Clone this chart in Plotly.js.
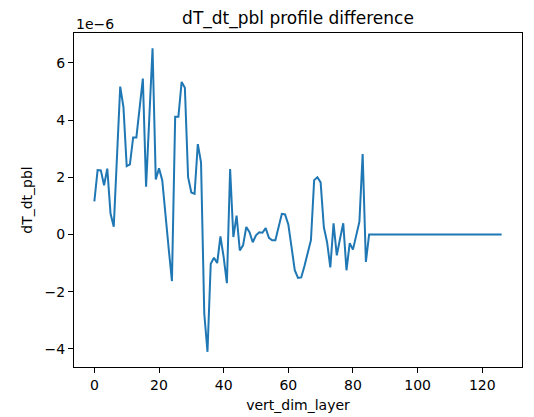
<!DOCTYPE html>
<html>
<head>
<meta charset="utf-8">
<script src="https://cdn.plot.ly/plotly-3.0.1.min.js"></script>
<style>
html,body{margin:0;padding:0;background:#fff;}
#chart{width:534px;height:417px;}
</style>
</head>
<body>
<div id="chart"></div>
<script>
// vertical layer index
var layers = [];
for (var k = 0; k <= 126; k++) layers.push(k);

// dT_dt_pbl difference, in units of 1e-6
var dTdtPbl = [
  1.16, 2.25, 2.24, 1.72, 2.30, 0.73, 0.27, 2.70, 5.17, 4.45,
  2.39, 2.45, 3.39, 3.39, 4.40, 5.45, 1.67, 4.10, 6.51, 1.92,
  2.31, 1.90, 0.60, -0.50, -1.63, 4.11, 4.11, 5.33, 5.13, 2.00,
  1.47, 1.42, 3.16, 2.52, -2.76, -4.10, -1.02, -0.81, -1.00, -0.07,
  -0.79, -1.70, 2.29, -0.09, 0.66, -0.56, -0.38, 0.26, 0.08, -0.27,
  -0.03, 0.08, 0.06, 0.22, -0.12, -0.20, -0.20, 0.26, 0.72, 0.70,
  0.35, -0.44, -1.25, -1.52, -1.50, -1.10, -0.60, -0.20, 1.90, 2.00,
  1.82, 0.25, -0.27, -1.15, 0.39, -0.73, -0.15, 0.39, -1.25, -0.30,
  -0.53, 0.00, 0.45, 2.81, -0.96, 0, 0, 0, 0, 0,
  0, 0, 0, 0, 0, 0, 0, 0, 0, 0,
  0, 0, 0, 0, 0, 0, 0, 0, 0, 0,
  0, 0, 0, 0, 0, 0, 0, 0, 0, 0,
  0, 0, 0, 0, 0, 0, 0
];

var xTicks = [0, 20, 40, 60, 80, 100, 120];
var yTicks = [-4, -2, 0, 2, 4, 6];
var yTickText = ["\u22124", "\u22122", "0", "2", "4", "6"];

var titleText = "dT_dt_pbl profile difference";
var xLabel = "vert_dim_layer";
var yLabel = "dT_dt_pbl";
var offsetText = "1e\u22126";

var font = "DejaVu Sans, sans-serif";

var ymin = Math.min.apply(null, dTdtPbl), ymax = Math.max.apply(null, dTdtPbl);
var ypad = 0.05 * (ymax - ymin);
var xpad = 0.05 * (layers[layers.length - 1] - layers[0]);

var trace = {
  x: layers,
  y: dTdtPbl,
  type: "scatter",
  mode: "lines",
  line: {color: "#1f77b4", width: 2},
  hoverinfo: "x+y"
};

var axisCommon = {
  showgrid: false,
  zeroline: false,
  showline: true,
  mirror: true,
  linecolor: "#000",
  linewidth: 1,
  ticks: "outside",
  ticklen: 5,
  tickwidth: 1,
  tickcolor: "#000",
  tickfont: {family: font, size: 14, color: "#000"}
};

var layout = {
  width: 534,
  height: 417,
  margin: {l: 74, r: 12, t: 33, b: 50},
  paper_bgcolor: "#fff",
  plot_bgcolor: "#fff",
  showlegend: false,
  title: {
    text: titleText,
    font: {family: font, size: 17, color: "#000"},
    x: 0.5, xref: "paper", xanchor: "center",
    y: 1 - 18 / 417, yref: "container", yanchor: "middle"
  },
  xaxis: Object.assign({}, axisCommon, {
    range: [layers[0] - xpad, layers[layers.length - 1] + xpad],
    tickmode: "array",
    tickvals: xTicks,
    ticktext: xTicks.map(String),
    title: {text: xLabel, font: {family: font, size: 14, color: "#000"}, standoff: 8}
  }),
  yaxis: Object.assign({}, axisCommon, {
    range: [ymin - ypad, ymax + ypad],
    tickmode: "array",
    tickvals: yTicks,
    ticktext: yTickText,
    title: {text: yLabel, font: {family: font, size: 14, color: "#000"}, standoff: 8}
  }),
  annotations: [{
    text: offsetText,
    xref: "paper", yref: "paper",
    x: 0, y: 1,
    xanchor: "left", yanchor: "bottom",
    yshift: -1,
    showarrow: false,
    font: {family: font, size: 14, color: "#000"}
  }]
};

Plotly.newPlot("chart", [trace], layout, {displayModeBar: false, staticPlot: true});
</script>
</body>
</html>
